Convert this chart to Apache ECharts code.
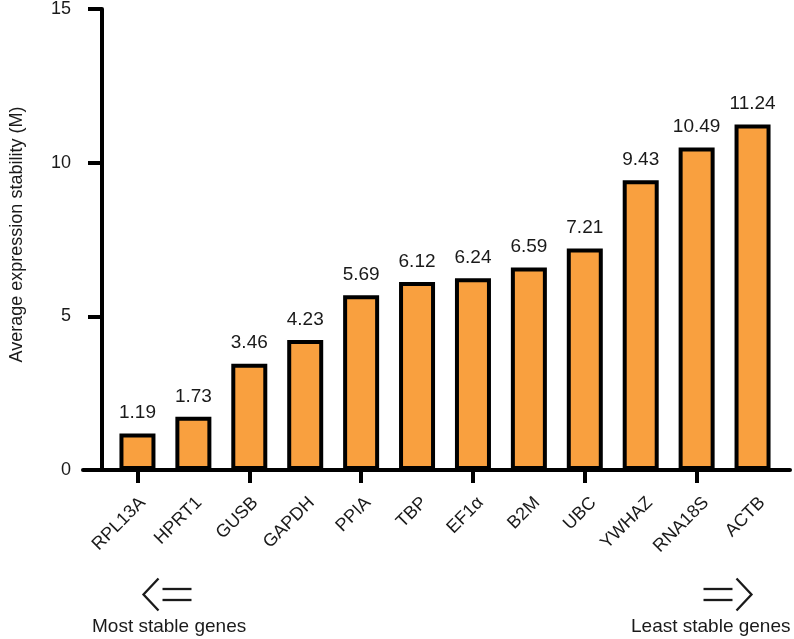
<!DOCTYPE html>
<html>
<head>
<meta charset="utf-8">
<script src="https://cdn.jsdelivr.net/npm/echarts@6/dist/echarts.min.js"></script>
<style>
html,body{margin:0;padding:0;background:#fff;}
#chart{width:794px;height:639px;}
</style>
</head>
<body>
<div id="chart"></div>
<script>
const categories = ['RPL13A','HPRT1','GUSB','GAPDH','PPIA','TBP','EF1α','B2M','UBC','YWHAZ','RNA18S','ACTB'];
const values = [1.19, 1.73, 3.46, 4.23, 5.69, 6.12, 6.24, 6.59, 7.21, 9.43, 10.49, 11.24];
const yTicks = [0, 5, 10, 15];
const yTitle = 'Average expression stability (M)';
const leftNote = 'Most stable genes';
const rightNote = 'Least stable genes';

const FONT = '"Liberation Sans", Arial, Helvetica, sans-serif';
const TXT = '#1a1a1a';

const chart = echarts.init(document.getElementById('chart'), null, {renderer: 'canvas'});
const gridTop = 8.3, gridBottom = 169;
const gL = 104.5, gR = 13.5, labelShift = 10;

const option = {
  animation: false,
  backgroundColor: '#fff',
  grid: [
    {left: gL, right: gR, top: gridTop, bottom: gridBottom},
    {left: 83, right: 4, top: gridTop, bottom: gridBottom},
    {left: gL + labelShift, right: gR - labelShift, top: gridTop, bottom: gridBottom}
  ],
  xAxis: [
    {
      type: 'category', gridIndex: 0, data: categories,
      axisLine: {show: false},
      axisTick: {show: true, alignWithLabel: true, length: 13, lineStyle: {color: '#000', width: 4}},
      axisLabel: {show: false}
    },
    {
      type: 'value', gridIndex: 1, min: 0, max: 1,
      axisLine: {show: true, lineStyle: {color: '#000', width: 4}},
      axisTick: {show: false}, axisLabel: {show: false}, splitLine: {show: false}
    },
    {
      type: 'category', gridIndex: 2, data: categories,
      axisLine: {show: false}, axisTick: {show: false},
      axisLabel: {rotate: 45, fontSize: 18, color: TXT, fontFamily: FONT, margin: 30, interval: 0}
    }
  ],
  yAxis: [
    {
      type: 'value', gridIndex: 0, min: yTicks[0], max: yTicks[yTicks.length - 1], interval: 5,
      offset: 7.5,
      name: yTitle, nameLocation: 'middle', nameGap: 76,
      nameTextStyle: {fontSize: 18, color: TXT, fontFamily: FONT, padding: [0, 0, 0, 10]},
      axisLine: {show: true, lineStyle: {color: '#000', width: 4}},
      axisTick: {show: true, length: 14, lineStyle: {color: '#000', width: 4}},
      axisLabel: {fontSize: 18, color: TXT, fontFamily: FONT, margin: 31},
      splitLine: {show: false}
    },
    {type: 'value', gridIndex: 1, show: false, min: 0, max: 1},
    {type: 'value', gridIndex: 2, show: false, min: 0, max: 1}
  ],
  series: [{
    type: 'bar', xAxisIndex: 0, yAxisIndex: 0,
    data: values,
    barWidth: 36,
    itemStyle: {color: '#F9A03F', borderColor: '#000', borderWidth: 4},
    label: {
      show: true, position: 'top', distance: 11,
      fontSize: 19, color: TXT, fontFamily: FONT,
      formatter: p => p.value.toFixed(2)
    }
  }],
  graphic: [
    {type: 'text', left: 92, top: 617, style: {text: leftNote, font: '19px ' + FONT, fill: TXT}},
    {type: 'text', left: 631, top: 617, style: {text: rightNote, font: '19px ' + FONT, fill: TXT}},
    {type: 'group', left: 141, top: 576, children: [
      {type: 'polyline', shape: {points: [[16, 0], [1, 16], [16, 32]]}, style: {stroke: '#1a1a1a', lineWidth: 2.3, fill: null}},
      {type: 'line', shape: {x1: 20, y1: 10.5, x2: 49, y2: 10.5}, style: {stroke: '#1a1a1a', lineWidth: 2.3}},
      {type: 'line', shape: {x1: 20, y1: 21.5, x2: 49, y2: 21.5}, style: {stroke: '#1a1a1a', lineWidth: 2.3}}
    ]},
    {type: 'group', left: 701, top: 576, children: [
      {type: 'polyline', shape: {points: [[33, 0], [48, 16], [33, 32]]}, style: {stroke: '#1a1a1a', lineWidth: 2.3, fill: null}},
      {type: 'line', shape: {x1: 0, y1: 10.5, x2: 29, y2: 10.5}, style: {stroke: '#1a1a1a', lineWidth: 2.3}},
      {type: 'line', shape: {x1: 0, y1: 21.5, x2: 29, y2: 21.5}, style: {stroke: '#1a1a1a', lineWidth: 2.3}}
    ]}
  ]
};
chart.setOption(option);
</script>
</body>
</html>
